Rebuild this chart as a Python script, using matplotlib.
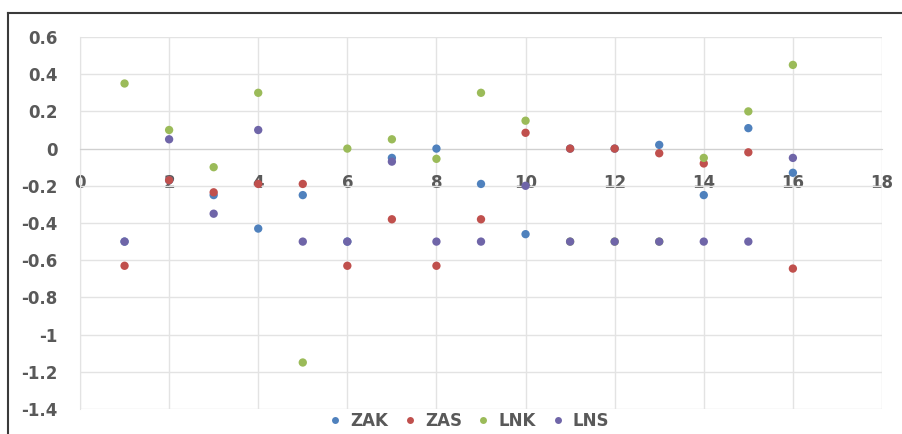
import matplotlib
matplotlib.use("Agg")
import matplotlib.pyplot as plt
from matplotlib.lines import Line2D

x = [1, 2, 3, 4, 5, 6, 7, 8, 9, 10, 11, 12, 13, 14, 15, 16]

zak = [-0.5, -0.17, -0.25, -0.43, -0.25, -0.5, -0.05, 0.0,
       -0.19, -0.46, 0.0, 0.0, 0.02, -0.25, 0.11, -0.13]
zas = [-0.63, -0.17, -0.235, -0.19, -0.19, -0.63, -0.38, -0.63,
       -0.38, 0.085, 0.0, 0.0, -0.025, -0.08, -0.02, -0.645]
lnk = [0.35, 0.1, -0.1, 0.3, -1.15, 0.0, 0.05, -0.055,
       0.3, 0.15, -0.5, -0.5, -0.5, -0.05, 0.2, 0.45]
lns = [-0.5, 0.05, -0.35, 0.1, -0.5, -0.5, -0.07, -0.5,
       -0.5, -0.2, -0.5, -0.5, -0.5, -0.5, -0.5, -0.05]

series = [("ZAK", zak, "#4F81BD"),
          ("ZAS", zas, "#C0504D"),
          ("LNK", lnk, "#9BBB59"),
          ("LNS", lns, "#6F65A8")]

txt = "#595959"
plt.rcParams['font.family'] = ['DejaVu Sans']

fig = plt.figure(figsize=(9.03, 4.34), dpi=100)
ax = fig.add_axes([80 / 903, 1 - 409 / 434, 802 / 903, 372 / 434])

for name, vals, col in series:
    ax.scatter(x, vals, s=36, color=col, edgecolors='none', zorder=3, label=name)

ax.set_xlim(0, 18)
ax.set_ylim(-1.4, 0.6)
ax.set_xticks(range(0, 19, 2))
ax.set_yticks([0.6, 0.4, 0.2, 0, -0.2, -0.4, -0.6, -0.8, -1, -1.2, -1.4])
ax.set_yticklabels(['0.6', '0.4', '0.2', '0', '-0.2', '-0.4', '-0.6',
                    '-0.8', '-1', '-1.2', '-1.4'])
ax.grid(True, color='#E3E3E3', lw=1, zorder=0)

for s in ['top', 'right']:
    ax.spines[s].set_visible(False)
ax.spines['bottom'].set_position(('data', 0))
ax.spines['bottom'].set_color('#D0D0D0')
ax.spines['left'].set_color('#E3E3E3')
ax.tick_params(axis='x', length=0, pad=18, labelsize=12, labelcolor=txt)
ax.tick_params(axis='y', length=0, pad=16, labelsize=12, labelcolor=txt)
for lab in ax.get_xticklabels() + ax.get_yticklabels():
    lab.set_fontweight('bold')
    lab.set_zorder(4)

handles = [Line2D([], [], ls='none', marker='o', ms=5, color=c,
                  markeredgecolor='none') for _, _, c in series]
fig.legend(handles, [n for n, _, _ in series], loc='center',
           bbox_to_anchor=(468 / 903, 1 - 421 / 434), ncol=4, frameon=False,
           handlelength=1.0, handletextpad=0.4, columnspacing=0.8,
           prop={'size': 12, 'weight': 'bold'}, labelcolor=txt)

# chart frame (only top and left edges are visible in the crop)
fig.add_artist(Line2D([8 / 903, 1], [1 - 13 / 434, 1 - 13 / 434],
                      color='#3A3A3A', lw=1.5, transform=fig.transFigure))
fig.add_artist(Line2D([8 / 903, 8 / 903], [0, 1 - 13 / 434],
                      color='#3A3A3A', lw=1.5, transform=fig.transFigure))

fig.savefig("out.png", dpi=100)
